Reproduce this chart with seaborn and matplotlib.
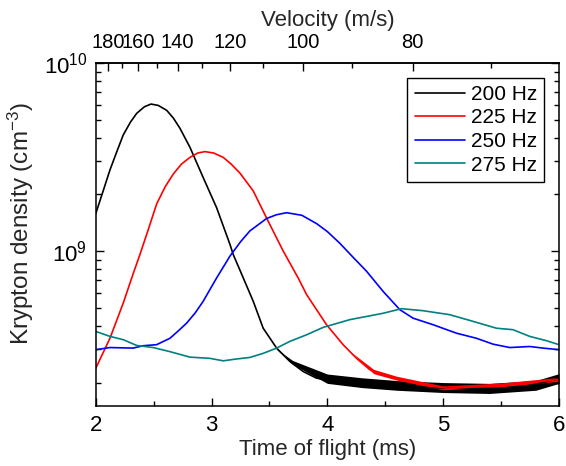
import numpy as np
import pandas as pd
import matplotlib
matplotlib.use("Agg")
import matplotlib.pyplot as plt
from matplotlib.ticker import FixedLocator, NullFormatter, MultipleLocator, LogLocator
import seaborn as sns

# ---- data ----
series_labels = ["200 Hz", "225 Hz", "250 Hz", "275 Hz"]
series_colors = ["#000000", "#FF0000", "#0000FF", "#008080"]

t_200 = [2.00, 2.06, 2.123, 2.18, 2.238, 2.30, 2.354, 2.42, 2.477, 2.54, 2.613, 2.67, 2.727, 2.814,
         2.928, 3.044, 3.159, 3.187, 3.274, 3.360, 3.446, 3.562, 3.676, 3.791, 3.907, 4.007,
         4.194, 4.453, 4.884, 5.23, 5.49, 5.75, 6.00]
n_200 = [15.8e8, 20.5e8, 27.0e8, 33.5e8, 41.5e8, 48.5e8, 54.0e8, 58.5e8, 60.5e8, 59.5e8, 56.0e8, 51.0e8,
         45.0e8, 35.6e8, 24.6e8, 17.0e8, 10.86e8, 9.60e8, 7.20e8, 5.41e8, 3.89e8, 3.05e8, 2.59e8,
         2.29e8, 2.11e8, 2.06e8, 2.00e8, 1.95e8, 1.88e8, 1.86e8, 1.86e8, 1.93e8, 2.10e8]
# spread of the noisy tail of the 200 Hz trace
t_200_band = [3.55, 3.7, 4.0, 4.3, 4.6, 5.0, 5.4, 5.8, 6.0]
lo_200_band = [3.05e8, 2.50e8, 1.98e8, 1.88e8, 1.82e8, 1.77e8, 1.75e8, 1.82e8, 1.98e8]
hi_200_band = [3.05e8, 2.62e8, 2.22e8, 2.12e8, 2.05e8, 2.00e8, 1.98e8, 2.05e8, 2.23e8]

t_225 = [2.00, 2.123, 2.238, 2.324, 2.382, 2.45, 2.526, 2.60, 2.670, 2.74, 2.814, 2.88, 2.943, 3.02,
         3.101, 3.17, 3.245, 3.36, 3.475, 3.619, 3.748, 3.821, 3.91, 3.993, 4.136, 4.252, 4.367,
         4.47, 4.597, 4.827, 5.057, 5.287, 5.517, 5.689, 5.862, 6.00]
n_225 = [2.38e8, 3.44e8, 5.30e8, 7.60e8, 9.60e8, 12.8e8, 17.8e8, 22.0e8, 25.7e8, 29.0e8, 31.5e8, 33.2e8,
         33.8e8, 33.2e8, 31.5e8, 29.0e8, 26.0e8, 20.9e8, 15.0e8, 10.0e8, 7.20e8, 5.87e8, 4.85e8,
         4.06e8, 3.18e8, 2.69e8, 2.34e8, 2.20e8, 2.11e8, 1.94e8, 1.86e8, 1.90e8, 1.94e8, 1.98e8,
         2.03e8, 2.08e8]
t_225_band = [4.2, 4.4, 4.6, 5.0, 5.5, 6.0]
lo_225_band = [2.92e8, 2.23e8, 2.06e8, 1.83e8, 1.90e8, 2.03e8]
hi_225_band = [2.92e8, 2.35e8, 2.16e8, 1.92e8, 1.99e8, 2.13e8]

t_250 = [2.00, 2.123, 2.324, 2.411, 2.526, 2.641, 2.71, 2.785, 2.86, 2.928, 3.044, 3.159, 3.25, 3.331,
         3.475, 3.56, 3.648, 3.78, 3.907, 4.0, 4.108, 4.22, 4.338, 4.481, 4.626, 4.740, 4.913, 5.115,
         5.287, 5.431, 5.575, 5.747, 5.862, 6.00]
n_250 = [2.99e8, 3.07e8, 3.05e8, 3.14e8, 3.18e8, 3.44e8, 3.75e8, 4.14e8, 4.70e8, 5.41e8, 7.20e8,
         9.40e8, 11.2e8, 12.8e8, 14.9e8, 15.6e8, 16.0e8, 15.5e8, 14.0e8, 12.7e8, 11.0e8, 9.30e8,
         7.82e8, 6.11e8, 4.88e8, 4.40e8, 4.06e8, 3.66e8, 3.44e8, 3.20e8, 3.07e8, 3.11e8, 3.05e8,
         2.99e8]

t_275 = [2.00, 2.123, 2.238, 2.354, 2.497, 2.641, 2.814, 2.986, 3.101, 3.217, 3.331, 3.446, 3.562,
         3.676, 3.821, 3.964, 4.194, 4.481, 4.640, 4.827, 5.057, 5.258, 5.460, 5.603, 5.747, 5.891,
         6.00]
n_275 = [3.74e8, 3.52e8, 3.38e8, 3.15e8, 3.07e8, 2.92e8, 2.73e8, 2.69e8, 2.61e8, 2.67e8, 2.72e8,
         2.86e8, 3.05e8, 3.31e8, 3.59e8, 3.93e8, 4.32e8, 4.67e8, 4.94e8, 4.82e8, 4.59e8, 4.23e8,
         3.89e8, 3.82e8, 3.52e8, 3.34e8, 3.18e8]

velocity_ticks = [180, 160, 140, 120, 100, 80]
velocity_minor = [190, 170, 150, 130, 110, 90, 70]
flight_length = 379.0  # m/s * ms  (distance 0.379 m)

# ---- build table ----
frames = []
for lab, t, n in zip(series_labels, [t_200, t_225, t_250, t_275], [n_200, n_225, n_250, n_275]):
    frames.append(pd.DataFrame({"t": t, "n": n, "freq": lab}))
df = pd.concat(frames, ignore_index=True)

# ---- style ----
sns.set_style("ticks", {"xtick.direction": "in", "ytick.direction": "in"})
plt.rcParams["font.family"] = ["Liberation Sans", "DejaVu Sans"]
plt.rcParams["mathtext.default"] = "regular"
plt.rcParams["font.size"] = 16
plt.rcParams["axes.linewidth"] = 1.1
plt.rcParams["axes.edgecolor"] = "black"
plt.rcParams["text.color"] = "black"
plt.rcParams["xtick.color"] = "black"
plt.rcParams["ytick.color"] = "black"

FS = 16

fig = plt.figure(figsize=(5.66, 4.66), dpi=100)
ax = fig.add_axes([0.1691, 0.1298, 0.9876 - 0.1691, 0.8648 - 0.1298])

palette = dict(zip(series_labels, series_colors))

ax.fill_between(t_200_band, lo_200_band, hi_200_band, color="black", linewidth=0)
sns.lineplot(data=df[df.freq == "200 Hz"], x="t", y="n", color="black", estimator=None,
             sort=False, linewidth=1.2, ax=ax, legend=False)
ax.fill_between(t_225_band, lo_225_band, hi_225_band, color="#FF0000", linewidth=0)
sns.lineplot(data=df[df.freq != "200 Hz"], x="t", y="n", hue="freq", palette=palette,
             hue_order=series_labels[1:], estimator=None, sort=False, linewidth=1.2,
             ax=ax, legend=False)

ax.set_yscale("log")
ax.set_xlim(2, 6)
ax.set_ylim(1.51e8, 1e10)

ax.xaxis.set_major_locator(MultipleLocator(1))
ax.xaxis.set_minor_locator(MultipleLocator(0.5))
ax.yaxis.set_major_locator(LogLocator(base=10, numticks=10))
ax.yaxis.set_minor_locator(LogLocator(base=10, subs=np.arange(2, 10), numticks=20))
ax.yaxis.set_minor_formatter(NullFormatter())

ax.tick_params(which="both", direction="in", top=False, right=True, width=1.0, labelsize=FS)
ax.tick_params(axis="x", which="both", pad=7)
ax.tick_params(axis="y", which="both", pad=6)
ax.tick_params(which="major", length=6)
ax.tick_params(which="minor", length=3.5)
for s in ax.spines.values():
    s.set_visible(True)
    s.set_color("black")

ax.set_xlabel("Time of flight (ms)", fontsize=FS, labelpad=2)
ax.set_ylabel("Krypton density (cm$^{-3}$)", fontsize=17.5)
ax.yaxis.set_label_coords(-0.128, 0.53)


def t_to_v(t):
    t = np.asarray(t, dtype=float)
    with np.errstate(divide="ignore", invalid="ignore"):
        return flight_length / t


sec = ax.secondary_xaxis("top", functions=(t_to_v, t_to_v))
sec.xaxis.set_major_locator(FixedLocator(velocity_ticks))
sec.xaxis.set_minor_locator(FixedLocator(velocity_minor))
sec.xaxis.set_minor_formatter(NullFormatter())
sec.tick_params(which="both", direction="in", width=1.0, labelsize=14.5, pad=8)
sec.tick_params(which="major", length=6)
sec.tick_params(which="minor", length=3.5)
sec.set_xlabel("Velocity (m/s)", fontsize=FS, labelpad=5)

handles = [plt.Line2D([], [], color=c, linewidth=1.2) for c in series_colors]
leg = ax.legend(handles, series_labels, loc="upper right", frameon=True, fancybox=False,
                edgecolor="black", framealpha=1, fontsize=15, handlelength=2.4,
                borderaxespad=0.7, labelspacing=0.22, borderpad=0.35, handletextpad=0.3)
leg.get_frame().set_linewidth(1.0)

fig.savefig("out.png", dpi=100)
